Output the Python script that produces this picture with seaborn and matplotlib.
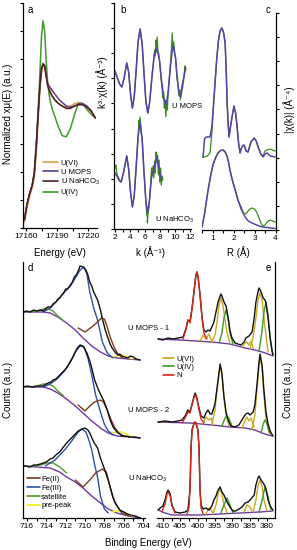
import matplotlib
matplotlib.use("Agg")
import matplotlib.pyplot as plt
from matplotlib.lines import Line2D
import numpy as np
import seaborn as sns

# ---------------- panel a : XANES ----------------
a_energy = [17158.5, 17161.0, 17163.5, 17166.0, 17168.0, 17170.0, 17172.0, 17173.5, 17175.0,
            17176.5, 17178.0, 17179.5, 17181.0, 17183.0, 17185.5, 17188.0, 17191.5, 17195.0,
            17199.0, 17203.0, 17207.0, 17211.0, 17215.0, 17219.0, 17223.0, 17227.0]
a_u6 = [0.05, 0.17, 0.27, 0.34, 0.43, 0.64, 0.95, 1.16, 1.31, 1.37, 1.37, 1.30, 1.22, 1.17,
        1.12, 1.08, 1.05, 1.03, 1.02, 1.03, 1.05, 1.06, 1.05, 1.02, 0.98, 0.93]
a_mops = [0.07, 0.20, 0.29, 0.36, 0.46, 0.70, 1.00, 1.20, 1.34, 1.38, 1.37, 1.29, 1.22, 1.19,
          1.16, 1.13, 1.09, 1.06, 1.03, 1.02, 1.03, 1.05, 1.05, 1.03, 0.99, 0.93]
a_nahco3 = [0.07, 0.20, 0.29, 0.36, 0.46, 0.70, 1.00, 1.21, 1.35, 1.39, 1.37, 1.28, 1.20, 1.15,
            1.11, 1.08, 1.05, 1.03, 1.01, 1.01, 1.03, 1.04, 1.04, 1.02, 0.99, 0.93]
a_u4 = [0.07, 0.20, 0.29, 0.36, 0.47, 0.72, 1.04, 1.32, 1.62, 1.75, 1.66, 1.42, 1.22, 1.09,
        1.00, 0.94, 0.85, 0.78, 0.77, 0.84, 0.96, 1.06, 1.05, 1.00, 0.96, 0.93]
a_labels = ["U(VI)", "U MOPS", "U NaHCO$_3$", "U(IV)"]

# ---------------- panel b : k3 chi(k) ----------------
b_offsets = [15.7, 5.9]
b_fit_mops = [(2.0, 0.0), (2.3, -0.6), (2.6, -1.2), (2.9, -1.5), (3.2, -0.6), (3.55, 0.9), (3.8, 0.0),
              (4.05, -2.2), (4.3, -3.6), (4.55, -2.4), (4.8, 0.2), (5.05, 3.0), (5.33, 4.3), (5.6, 2.8),
              (5.85, -0.2), (6.1, -3.0), (6.35, -4.1), (6.6, -3.0), (6.9, -0.5), (7.2, 1.6), (7.55, 2.4),
              (7.9, 1.2), (8.2, -1.0), (8.5, -2.7), (8.8, -3.3), (9.1, -1.8), (9.35, 0.5), (9.6, 2.1),
              (9.8, 2.6), (10.05, 1.3), (10.3, -0.8), (10.5, -2.1), (10.7, -2.5), (10.95, -1.6),
              (11.2, -0.3), (11.4, 0.4)]
b_data_mops = [(2.0, 0.1), (2.3, -0.6), (2.6, -1.2), (2.9, -1.5), (3.2, -0.6), (3.55, 0.9), (3.8, 0.0),
               (4.05, -2.2), (4.3, -3.6), (4.55, -2.4), (4.8, 0.2), (5.05, 3.0), (5.33, 4.3), (5.6, 2.8),
               (5.85, -0.2), (6.1, -3.0), (6.35, -4.1), (6.6, -3.0), (6.9, -0.5), (7.1, 1.0), (7.25, 2.2),
               (7.35, 1.6), (7.45, 3.2), (7.5, 2.0), (7.6, 3.5), (7.7, 2.1), (7.8, 1.9), (7.95, 0.9),
               (8.1, -0.6), (8.25, -1.6), (8.35, -2.6), (8.45, -2.0), (8.55, -3.6), (8.65, -2.8),
               (8.75, -4.5), (8.85, -3.0), (8.95, -3.8), (9.1, -1.5), (9.25, -0.2), (9.4, 1.2), (9.5, 2.4),
               (9.6, 3.9), (9.7, 2.2), (9.8, 3.0), (9.9, 1.8), (10.05, 1.5), (10.2, -0.5), (10.35, -1.2),
               (10.5, -2.4), (10.6, -1.8), (10.7, -2.8), (10.85, -1.5), (11.0, -1.0), (11.15, -0.5),
               (11.3, 0.6), (11.4, 0.2)]
b_fit_na = [(2.0, -0.3), (2.3, -0.7), (2.6, -1.1), (2.8, -1.2), (3.1, -0.3), (3.55, 1.4), (3.8, 0.1),
            (4.05, -2.2), (4.3, -3.7), (4.55, -2.5), (4.8, 0.3), (5.05, 3.3), (5.33, 4.8), (5.6, 3.0),
            (5.85, -0.3), (6.1, -3.2), (6.35, -4.3), (6.6, -2.8), (6.9, -0.3), (7.1, -0.1), (7.3, 0.6),
            (7.55, 1.3), (7.8, 0.4), (8.0, -0.5), (8.2, -1.0)]
b_data_na = [(2.0, 0.2), (2.1, 0.5), (2.2, -0.2), (2.3, -0.5), (2.6, -1.0), (2.8, -1.2), (3.1, -0.3),
             (3.55, 1.4), (3.8, 0.1), (4.05, -2.2), (4.3, -3.7), (4.55, -2.5), (4.8, 0.3), (5.05, 3.3),
             (5.2, 5.0), (5.25, 4.2), (5.33, 5.3), (5.45, 3.8), (5.6, 3.2), (5.85, -0.3), (6.1, -3.2),
             (6.2, -4.5), (6.25, -3.8), (6.3, -5.3), (6.4, -4.0), (6.5, -3.8), (6.6, -2.8), (6.75, -1.0),
             (6.85, 0.2), (6.95, -0.6), (7.05, 0.4), (7.15, -0.8), (7.25, 0.9), (7.35, -0.3), (7.45, 1.8),
             (7.55, 0.8), (7.65, 1.5), (7.75, -0.5), (7.85, 1.0), (7.95, -1.2), (8.05, 0.2), (8.15, -1.5),
             (8.25, -0.6), (8.35, -1.0)]

# ---------------- panel c : |chi(R)| ----------------
c_fit_mops = [(0.55, 7.2), (0.62, 9.0), (0.7, 9.2), (0.88, 9.2), (0.97, 10.2), (1.05, 12.5), (1.12, 14.6),
              (1.2, 17.0), (1.28, 18.8), (1.36, 19.8), (1.45, 20.1), (1.53, 19.6), (1.6, 18.6), (1.65, 16.0),
              (1.69, 12.9), (1.74, 10.6), (1.79, 9.2), (1.86, 10.3), (1.93, 11.2), (2.02, 12.3), (2.1, 11.6),
              (2.17, 10.2), (2.24, 8.6), (2.31, 7.6), (2.36, 8.0), (2.42, 8.3), (2.5, 8.4), (2.6, 7.8),
              (2.69, 7.7), (2.76, 8.2), (2.83, 8.7), (2.98, 9.1), (3.08, 8.8), (3.17, 8.2), (3.3, 7.5),
              (3.4, 7.2), (3.5, 7.5), (3.6, 7.6), (3.74, 7.3), (3.98, 7.2)]
c_data_mops = [(0.5, 7.2), (0.6, 7.2), (0.75, 7.3), (0.88, 7.6), (0.97, 9.6), (1.05, 12.4), (1.12, 14.6),
               (1.2, 17.0), (1.28, 18.8), (1.36, 19.8), (1.45, 20.1), (1.53, 19.6), (1.6, 18.6), (1.65, 16.0),
               (1.69, 12.9), (1.74, 10.6), (1.79, 9.2), (1.86, 10.3), (1.93, 11.2), (2.02, 12.3), (2.1, 11.6),
               (2.17, 10.2), (2.24, 8.6), (2.31, 7.6), (2.36, 8.0), (2.42, 8.3), (2.5, 8.4), (2.6, 7.8),
               (2.69, 7.7), (2.76, 8.2), (2.83, 8.7), (2.98, 9.1), (3.08, 8.8), (3.17, 8.2), (3.3, 7.5),
               (3.4, 7.3), (3.5, 7.8), (3.6, 7.9), (3.74, 8.0), (3.85, 7.9), (3.98, 7.8)]
c_fit_na = [(0.5, 0.2), (0.62, 1.5), (0.79, 3.9), (0.9, 5.2), (1.02, 6.4), (1.14, 7.1), (1.26, 7.6),
            (1.38, 7.85), (1.5, 7.9), (1.6, 7.7), (1.69, 7.3), (1.76, 6.7), (1.83, 5.9), (1.93, 5.0),
            (2.02, 4.3), (2.12, 3.6), (2.21, 2.9), (2.36, 2.0), (2.55, 1.2), (2.7, 0.8), (2.88, 0.6),
            (3.1, 0.4), (3.36, 0.2), (3.6, 0.15), (3.98, 0.05)]
c_data_na = [(0.5, 0.2), (0.62, 1.5), (0.79, 3.9), (0.9, 5.2), (1.02, 6.4), (1.14, 7.1), (1.26, 7.6),
             (1.38, 7.85), (1.5, 7.9), (1.6, 7.7), (1.69, 7.3), (1.76, 6.7), (1.83, 5.9), (1.93, 5.0),
             (2.02, 4.3), (2.12, 3.6), (2.21, 2.9), (2.36, 2.2), (2.47, 1.6), (2.55, 1.5), (2.62, 1.6),
             (2.75, 1.95), (2.88, 2.1), (3.0, 2.0), (3.1, 1.7), (3.2, 1.2), (3.3, 0.6), (3.4, 0.3),
             (3.5, 0.4), (3.6, 0.7), (3.74, 0.9), (3.85, 0.8), (3.98, 0.7)]

# ---------------- panel d : Fe 2p ----------------
d_mops1_data = [(716.4, 20.6), (716.0, 20.7), (715.7, 20.6), (715.3, 20.8), (715.0, 20.7), (714.6, 20.8),
                (714.3, 20.7), (714.0, 21.0), (713.8, 21.1), (713.5, 21.1), (713.3, 21.4), (713.0, 21.6),
                (712.8, 21.9), (712.6, 22.0), (712.4, 22.3), (712.2, 22.5), (712.0, 22.9), (711.8, 22.9),
                (711.5, 23.3), (711.3, 23.6), (711.1, 24.1), (710.9, 24.3), (710.7, 24.7), (710.5, 25.2),
                (710.2, 25.1), (709.9, 24.8), (709.7, 24.3), (709.5, 23.6), (709.3, 23.2), (709.1, 22.6),
                (708.9, 22.2), (708.7, 21.8), (708.4, 20.8), (708.2, 19.9), (707.9, 18.8), (707.7, 18.2),
                (707.4, 17.4), (707.2, 17.0), (706.9, 16.6), (706.6, 16.3), (706.4, 16.4), (706.2, 16.2),
                (705.9, 16.1), (705.6, 16.0), (705.3, 16.2), (705.0, 16.1), (704.7, 15.9), (704.3, 15.8)]
d_mops1_bg = [(716.4, 20.6), (714.3, 20.6), (713.6, 20.5), (712.8, 20.1), (711.9, 19.5), (711.0, 18.8),
              (710.2, 18.0), (709.3, 17.2), (708.4, 16.6), (707.6, 16.2), (706.7, 16.0), (705.5, 15.9),
              (704.3, 15.8)]
d_mops1_fe3 = [(714.3, 20.6), (713.6, 21.0), (712.9, 21.7), (712.2, 22.5), (711.5, 23.2), (711.0, 24.0),
               (710.5, 24.8), (710.1, 25.1), (709.8, 24.4), (709.5, 22.6), (709.1, 21.0), (708.7, 19.8),
               (708.2, 17.6), (707.7, 16.5), (707.1, 16.0)]
d_mops1_fe2 = [(710.7, 19.0), (710.0, 18.6), (709.3, 19.1), (708.7, 19.6), (708.3, 20.0), (708.0, 19.9),
               (707.7, 19.1), (707.4, 18.1), (707.0, 17.1), (706.6, 16.4), (706.1, 16.0)]
d_mops1_sat = [(715.7, 20.6), (715.0, 20.7), (714.3, 20.9), (713.8, 20.9), (713.3, 20.7), (712.8, 20.2),
               (712.2, 19.7)]
d_mops1_pre = [(707.2, 16.1), (706.7, 16.2), (706.2, 16.3), (705.6, 16.1), (705.1, 15.9)]

d_mops2_data = [(716.4, 13.1), (716.0, 13.2), (715.4, 13.1), (714.9, 13.2), (714.3, 13.2), (714.0, 13.4),
                (713.8, 13.5), (713.5, 13.6), (713.3, 13.8), (713.0, 13.9), (712.8, 14.1), (712.6, 14.3),
                (712.4, 14.5), (712.1, 14.8), (711.9, 15.0), (711.6, 15.5), (711.3, 16.0), (711.0, 16.6),
                (710.8, 17.0), (710.5, 17.3), (710.2, 17.2), (709.8, 16.5), (709.5, 15.7), (709.3, 15.0),
                (709.0, 13.8), (708.6, 12.8), (708.3, 12.2), (708.0, 11.6), (707.7, 10.8), (707.4, 9.8),
                (707.1, 9.1), (706.7, 8.6), (706.4, 8.4), (706.2, 8.2), (705.8, 8.2), (705.3, 8.1),
                (704.8, 8.1), (704.3, 8.0)]
d_mops2_bg = [(716.4, 13.1), (714.3, 13.1), (713.6, 12.9), (712.8, 12.5), (711.9, 11.9), (711.0, 11.2),
              (710.2, 10.5), (709.3, 9.7), (708.4, 9.0), (707.6, 8.5), (706.7, 8.2), (705.5, 8.1),
              (704.3, 8.0)]
d_mops2_fe3 = [(714.3, 13.1), (713.6, 13.4), (712.9, 13.9), (712.2, 14.6), (711.5, 15.6), (711.0, 16.6),
               (710.5, 17.2), (710.1, 17.1), (709.7, 16.0), (709.3, 14.3), (708.9, 12.3), (708.4, 10.6),
               (708.0, 9.4), (707.6, 8.7), (707.1, 8.3)]
d_mops2_fe2 = [(710.7, 11.3), (710.0, 10.7), (709.5, 11.2), (709.0, 11.6), (708.4, 11.8), (708.1, 11.6),
               (707.7, 10.8), (707.3, 9.8), (706.9, 9.0), (706.5, 8.5), (706.0, 8.2)]
d_mops2_sat = [(715.7, 13.1), (715.0, 13.2), (714.3, 13.4), (713.8, 13.4), (713.3, 13.2), (712.8, 12.7),
               (712.2, 12.2)]
d_mops2_pre = [(707.2, 8.5), (706.7, 8.6), (706.2, 8.6), (705.6, 8.3), (705.1, 8.1)]

d_na_data = [(716.4, 5.2), (716.0, 5.2), (715.7, 5.1), (715.3, 5.3), (715.0, 5.3), (714.6, 5.4), (714.3, 5.5),
             (714.0, 5.6), (713.6, 5.9), (713.3, 6.0), (712.9, 6.4), (712.6, 6.6), (712.3, 7.0), (711.9, 7.5),
             (711.6, 7.8), (711.3, 8.1), (711.0, 8.4), (710.7, 8.7), (710.5, 8.8), (710.3, 8.9), (710.0, 9.0),
             (709.7, 8.8), (709.5, 8.5), (709.1, 7.6), (708.7, 7.0), (708.4, 6.0), (708.1, 5.2), (707.6, 3.8),
             (707.1, 2.0), (706.8, 1.4), (706.4, 0.8), (706.0, 0.6), (705.6, 0.4), (705.3, 0.3), (704.8, 0.2),
             (704.3, 0.0)]
d_na_bg = [(716.4, 5.2), (713.6, 5.0), (712.6, 4.6), (711.9, 4.1), (711.0, 3.6), (710.2, 3.0), (709.3, 2.2),
           (708.4, 1.5), (707.6, 0.9), (706.7, 0.5), (705.5, 0.2), (704.3, 0.0)]
d_na_fe3 = [(714.1, 5.2), (713.1, 5.8), (712.1, 6.8), (711.3, 7.8), (710.7, 8.6), (710.3, 8.9), (709.9, 8.6),
            (709.6, 7.8), (709.3, 6.8), (709.0, 5.3), (708.7, 4.1), (708.4, 2.2), (708.0, 0.9), (707.6, 0.5)]
d_na_fe2 = [(711.0, 3.8), (710.2, 3.1), (709.5, 3.8), (708.9, 4.5), (708.2, 4.9), (707.8, 4.6), (707.4, 3.1),
            (706.9, 1.5), (706.2, 0.5), (705.5, 0.2)]
d_na_sat = [(715.9, 5.1), (714.6, 5.3), (713.9, 5.5), (713.3, 5.5), (712.6, 5.1), (711.9, 4.5)]
d_na_pre = [(707.2, 0.6), (706.7, 0.7), (706.2, 0.7), (705.6, 0.4), (705.1, 0.2)]
d_labels = ["Fe(II)", "Fe(III)", "satellite", "pre-peak"]

# ---------------- panel e : U 4f / N 1s ----------------
e_m1_data = [(411.4, 17.9), (410.0, 17.8), (408.5, 18.0), (407.1, 17.9), (405.6, 18.0), (404.2, 18.1),
             (403.3, 19.0), (402.8, 19.8), (402.2, 19.6), (401.6, 21.0), (401.0, 22.8), (400.5, 24.3),
             (400.2, 24.6), (399.9, 24.2), (399.3, 22.3), (398.7, 20.0), (398.2, 18.8), (397.6, 18.6),
             (397.0, 18.8), (396.4, 18.7), (395.9, 19.1), (395.3, 19.6), (394.7, 20.6), (394.1, 21.6),
             (393.5, 22.2), (393.3, 22.4), (393.0, 22.2), (392.4, 21.6), (391.8, 21.2), (391.2, 20.0),
             (390.7, 18.8), (390.1, 18.0), (389.2, 17.5), (388.4, 17.4), (387.5, 17.3), (386.6, 17.6),
             (386.1, 18.0), (385.2, 18.2), (384.3, 18.6), (383.7, 20.0), (383.2, 21.6), (382.6, 22.6),
             (382.3, 23.0), (381.7, 22.6), (381.1, 22.0), (380.6, 21.8), (380.3, 21.5), (379.7, 20.0),
             (379.1, 18.0), (378.6, 16.8), (378.3, 16.3)]
e_m1_bg = [(411.4, 17.9), (405.1, 17.8), (395.9, 17.6), (390.7, 17.4), (386.3, 17.0), (383.5, 16.8),
           (381.4, 16.6), (379.7, 16.4), (378.3, 16.2)]
e_m1_n = [(404.2, 17.9), (403.3, 18.9), (402.8, 19.8), (402.2, 19.5), (401.6, 20.9), (401.0, 22.7),
          (400.5, 24.2), (400.2, 24.6), (399.9, 24.2), (399.3, 22.3), (398.7, 19.9), (398.2, 18.5), (397.3, 17.9)]
e_m1_u6 = [
    [(395.9, 17.6), (395.0, 18.3), (394.4, 19.6), (393.8, 21.3), (393.3, 22.0), (392.7, 21.3), (392.1, 19.8),
     (391.5, 18.5), (390.7, 17.5)],
    [(399.3, 17.7), (398.4, 18.3), (397.6, 17.9), (396.7, 18.4), (395.9, 17.6)],
    [(384.9, 16.9), (384.0, 18.1), (383.2, 20.0), (382.6, 21.8), (382.0, 22.5), (381.4, 21.8), (380.9, 20.1),
     (380.3, 18.3), (379.7, 16.6)],
    [(387.2, 17.1), (386.3, 17.5), (385.8, 17.6), (385.2, 17.3), (384.6, 17.7), (384.0, 17.0)]]
e_m1_u4 = [
    [(393.8, 17.5), (393.0, 18.5), (392.4, 20.0), (391.8, 20.8), (391.2, 20.0), (390.7, 18.5), (389.8, 17.4)],
    [(382.3, 16.7), (381.4, 18.8), (380.9, 20.6), (380.3, 21.6), (379.7, 20.3), (379.1, 18.0), (378.3, 16.3)]]

e_m2_data = [(411.4, 9.6), (409.4, 9.7), (407.4, 9.6), (405.6, 9.7), (404.5, 9.8), (403.6, 10.2), (402.8, 10.8),
             (402.2, 10.6), (401.6, 11.4), (401.0, 12.2), (400.7, 12.5), (400.2, 12.0), (399.6, 11.0),
             (399.0, 10.2), (398.2, 10.0), (397.6, 10.5), (397.0, 10.8), (396.4, 10.4), (395.9, 10.4),
             (395.0, 11.4), (394.4, 13.0), (393.8, 14.6), (393.5, 15.4), (393.0, 14.5), (392.4, 12.1),
             (391.8, 10.6), (391.2, 9.8), (390.4, 9.2), (389.2, 9.1), (388.1, 9.3), (386.9, 10.0),
             (386.1, 10.4), (385.5, 10.5), (384.9, 10.3), (384.0, 10.6), (383.5, 11.3), (382.9, 13.3),
             (382.3, 15.6), (382.0, 16.4), (381.4, 15.2), (380.9, 12.8), (380.3, 10.6), (379.7, 9.4),
             (379.1, 8.7), (378.3, 8.2)]
e_m2_bg = [(411.4, 9.6), (402.2, 9.5), (395.9, 9.3), (390.7, 9.1), (386.3, 9.0), (383.5, 8.8), (381.4, 8.5),
           (379.7, 8.3), (378.3, 8.2)]
e_m2_n = [(404.5, 9.5), (403.6, 10.0), (402.8, 10.6), (402.2, 10.5), (401.6, 11.3), (401.0, 12.1),
          (400.7, 12.3), (400.2, 11.9), (399.6, 10.8), (399.0, 9.9), (398.2, 9.5)]
e_m2_u6 = [
    [(395.9, 9.3), (395.0, 10.8), (394.4, 12.8), (393.8, 14.6), (393.5, 15.1), (393.0, 14.3), (392.4, 12.0),
     (391.8, 10.2), (390.9, 9.2)],
    [(398.4, 9.4), (397.6, 10.1), (396.7, 9.8), (396.1, 10.0), (395.6, 9.4)],
    [(384.3, 8.9), (383.5, 10.3), (382.9, 12.8), (382.3, 15.3), (382.0, 16.1), (381.4, 15.0), (380.9, 12.3),
     (380.3, 10.0), (379.4, 8.5)],
    [(387.2, 9.0), (386.3, 9.8), (385.8, 10.1), (385.2, 9.7), (384.6, 10.0), (383.7, 9.1)]]
e_m2_u4 = [
    [(393.0, 9.2), (392.1, 10.0), (391.5, 10.2), (390.9, 9.9), (390.1, 9.2)],
    [(381.7, 8.5), (381.1, 9.4), (380.6, 9.8), (380.0, 9.4), (379.1, 8.4)]]

e_na_data = [(411.4, 0.8), (410.8, 1.0), (410.0, 1.2), (409.4, 1.8), (408.8, 2.6), (408.5, 2.8), (407.9, 2.4),
             (407.4, 1.3), (406.5, 0.6), (405.1, 0.5), (403.6, 0.6), (402.8, 0.8), (402.2, 2.8), (401.9, 7.0),
             (401.6, 8.8), (401.0, 9.5), (400.7, 9.6), (400.5, 9.5), (399.9, 8.8), (399.6, 7.0), (399.3, 2.8),
             (399.0, 1.3), (398.4, 0.9), (397.6, 1.0), (396.7, 0.8), (395.9, 1.2), (395.3, 1.8), (394.7, 2.2),
             (394.1, 2.8), (393.5, 3.1), (393.0, 2.6), (392.4, 2.3), (391.8, 1.8), (391.2, 1.4), (390.7, 1.1),
             (389.8, 0.7), (389.0, 0.7), (388.1, 0.9), (387.2, 1.1), (386.3, 1.5), (385.5, 1.6), (384.6, 1.9),
             (383.7, 2.3), (383.2, 3.3), (382.6, 4.0), (382.3, 4.2), (381.7, 3.8), (381.1, 3.5), (380.6, 3.2),
             (380.3, 2.9), (379.7, 1.8), (379.1, 1.2), (378.3, 0.8)]
e_na_bg = [(411.4, 0.8), (409.4, 0.5), (407.4, 0.3), (405.1, 0.3), (399.3, 0.3), (393.5, 0.4), (387.8, 0.5),
           (382.0, 0.6), (378.3, 0.7)]
e_na_n = [
    [(410.3, 0.6), (409.4, 1.4), (408.8, 2.4), (408.5, 2.6), (407.9, 2.2), (407.4, 1.2), (406.5, 0.5)],
    [(403.1, 0.4), (402.5, 1.0), (402.2, 2.8), (401.9, 7.0), (401.6, 8.8), (401.0, 9.5), (400.7, 9.6),
     (400.5, 9.5), (399.9, 8.8), (399.6, 7.0), (399.3, 2.8), (399.0, 1.0), (398.4, 0.4)]]
e_na_u6 = [
    [(395.6, 0.4), (394.7, 1.3), (394.1, 2.4), (393.5, 3.0), (393.0, 2.4), (392.4, 1.3), (391.5, 0.5)],
    [(397.6, 0.4), (396.7, 1.0), (396.1, 0.8), (395.6, 0.5)],
    [(384.0, 0.6), (383.2, 1.8), (382.6, 3.2), (382.0, 3.8), (381.4, 3.1), (380.9, 1.8), (380.0, 0.7)],
    [(386.6, 0.6), (385.8, 1.3), (384.9, 1.1), (384.3, 0.7)]]
e_na_u4 = [
    [(393.3, 0.5), (392.4, 1.3), (391.5, 2.0), (390.7, 1.3), (389.8, 0.5)],
    [(382.3, 0.6), (381.4, 1.8), (380.6, 3.1), (379.7, 2.1), (378.8, 0.8)]]
e_labels = ["U(VI)", "U(IV)", "N"]
xps_names = ["U MOPS - 1", "U MOPS - 2", "U NaHCO$_3$"]

# ---------------- colours ----------------
C_U6A, C_MOPS, C_NA, C_U4A = "#dca040", "#5e3d8f", "#4e2222", "#3f9a2d"
C_FIT, C_EXP = "#5544a8", "#3a8a1c"
C_FE2, C_FE3, C_SAT, C_PRE, C_BG = "#7b3a1e", "#2f4fa8", "#4f9a2a", "#eeee10", "#7038a0"
C_U6, C_U4, C_N = "#c9a820", "#3a9a2a", "#d8281a"

sns.set_style("ticks", {"axes.edgecolor": "black", "xtick.color": "black", "ytick.color": "black",
                        "text.color": "black", "axes.labelcolor": "black"})
plt.rcParams['font.family'] = ['Liberation Sans Narrow', 'Liberation Sans', 'DejaVu Sans']
plt.rcParams['mathtext.default'] = 'regular'

W, H = 297, 550
fig = plt.figure(figsize=(W / 100, H / 100), dpi=100)


def rect(l, t, r, b):
    return [l / W, 1 - b / H, (r - l) / W, (b - t) / H]


def draw(ax, pts, color, lw=1.0, z=2, dy=0.0):
    xs = [p[0] for p in pts]
    ys = [p[1] + dy for p in pts]
    sns.lineplot(x=xs, y=ys, ax=ax, color=color, linewidth=lw, estimator=None, sort=False, zorder=z)


def ftext(px, py, s, **kw):
    fig.text(px / W, 1 - py / H, s, **kw)


def style(ax, left=True, right=False):
    for side in ["top", "left", "right"]:
        ax.spines[side].set_visible(False)
    if left:
        ax.spines["left"].set_visible(True)
    if right:
        ax.spines["right"].set_visible(True)
    for sp in ax.spines.values():
        sp.set_linewidth(0.9)
    ax.tick_params(direction="out", length=2.5, width=0.8, labelsize=6, pad=1)
    ax.set_xlabel("")
    ax.set_ylabel("")


# ---- a
ax_a = fig.add_axes(rect(23, 3, 97, 228))
for vals, col in [(a_u4, C_U4A), (a_u6, C_U6A), (a_mops, C_MOPS), (a_nahco3, C_NA)]:
    draw(ax_a, list(zip(a_energy, vals)), col, lw=1.1)
ax_a.set_xlim(17157.1, 17228.7)
ax_a.set_ylim(0, 1.9)
style(ax_a)
ax_a.set_xticks([17160, 17175, 17190, 17205, 17220], ["17160", "", "17190", "", "17220"])
ax_a.set_yticks(np.linspace(0, 1.9, 9), [])
handles = [Line2D([0], [0], color=c, lw=1.2) for c in [C_U6A, C_MOPS, C_NA, C_U4A]]
ax_a.legend(handles, a_labels, loc="upper left", bbox_to_anchor=(0.27, 0.305), frameon=False,
            fontsize=5.5, handlelength=2.0, handletextpad=0.3, labelspacing=0.2, borderaxespad=0, borderpad=0)

# ---- b
ax_b = fig.add_axes(rect(114, 3, 191, 229))
draw(ax_b, b_data_mops, C_EXP, lw=0.9, dy=b_offsets[0])
draw(ax_b, b_fit_mops, C_FIT, lw=1.1, z=3, dy=b_offsets[0])
draw(ax_b, b_data_na, C_EXP, lw=0.9, dy=b_offsets[1])
draw(ax_b, b_fit_na, C_FIT, lw=1.1, z=3, dy=b_offsets[1])
ax_b.set_xlim(1.85, 12.1)
ax_b.set_ylim(0, 22.6)
style(ax_b)
ax_b.set_xticks(range(2, 13), [str(k) if k % 2 == 0 else "" for k in range(2, 13)])
ax_b.set_yticks(np.linspace(0, 22.6, 10), [])

# ---- c
ax_c = fig.add_axes(rect(202, 13, 276, 230))
draw(ax_c, c_data_mops, C_EXP, lw=0.9)
draw(ax_c, c_fit_mops, C_FIT, lw=1.1, z=3)
draw(ax_c, c_data_na, C_EXP, lw=0.9)
draw(ax_c, c_fit_na, C_FIT, lw=1.1, z=3)
ax_c.set_xlim(0.5, 4.02)
ax_c.set_ylim(-0.1, 21.6)
style(ax_c, left=False, right=True)
ax_c.yaxis.tick_right()
ax_c.set_xticks(np.arange(0.5, 4.01, 0.5), ["", "1", "", "2", "", "3", "", "4"])
ax_c.set_yticks(np.linspace(-0.1, 21.6, 10), [])

# ---- d
ax_d = fig.add_axes(rect(23, 262, 145, 518))
for data, bg, fe3, fe2, sat, pre in [
        (d_mops1_data, d_mops1_bg, d_mops1_fe3, d_mops1_fe2, d_mops1_sat, d_mops1_pre),
        (d_mops2_data, d_mops2_bg, d_mops2_fe3, d_mops2_fe2, d_mops2_sat, d_mops2_pre),
        (d_na_data, d_na_bg, d_na_fe3, d_na_fe2, d_na_sat, d_na_pre)]:
    draw(ax_d, bg, C_BG, lw=1.0, z=2)
    draw(ax_d, sat, C_SAT, lw=1.0, z=3)
    draw(ax_d, pre, C_PRE, lw=1.0, z=3)
    draw(ax_d, fe3, C_FE3, lw=1.0, z=4)
    draw(ax_d, fe2, C_FE2, lw=1.0, z=4)
    draw(ax_d, data, "#111111", lw=1.0, z=5)
ax_d.set_xlim(716.4, 703.8)
ax_d.set_ylim(0, 25.6)
style(ax_d)
ax_d.set_xticks(range(704, 717), [str(v) if v % 2 == 0 else "" for v in range(704, 717)])
ax_d.set_yticks([])
handles = [Line2D([0], [0], color=c, lw=1.2) for c in [C_FE2, C_FE3, C_SAT, C_PRE]]
ax_d.legend(handles, d_labels, loc="upper left", bbox_to_anchor=(0.03, 0.166), frameon=False,
            fontsize=5.5, handlelength=1.7, handletextpad=0.2, labelspacing=0.2, borderaxespad=0, borderpad=0)

# ---- e
ax_e = fig.add_axes(rect(157, 262, 275, 518))
for data, bg, n_list, u6_list, u4_list in [
        (e_m1_data, e_m1_bg, [e_m1_n], e_m1_u6, e_m1_u4),
        (e_m2_data, e_m2_bg, [e_m2_n], e_m2_u6, e_m2_u4),
        (e_na_data, e_na_bg, e_na_n, e_na_u6, e_na_u4)]:
    draw(ax_e, bg, C_BG, lw=1.0, z=2)
    for seg in u6_list:
        draw(ax_e, seg, C_U6, lw=1.0, z=3)
    for seg in u4_list:
        draw(ax_e, seg, C_U4, lw=1.0, z=3)
    draw(ax_e, data, "#111111", lw=1.0, z=4)
    for seg in n_list:
        draw(ax_e, seg, C_N, lw=1.0, z=5)
ax_e.set_xlim(411.7, 377.7)
ax_e.set_ylim(0, 25.6)
style(ax_e, left=False, right=True)
ticks_e = np.arange(380, 410.1, 2.5)
ax_e.set_xticks(ticks_e, [str(int(v)) if v % 5 == 0 else "" for v in ticks_e])
ax_e.set_yticks([])
handles = [Line2D([0], [0], color=c, lw=1.2) for c in [C_U6, C_U4, C_N]]
ax_e.legend(handles, e_labels, loc="upper left", bbox_to_anchor=(0.05, 0.634), frameon=False,
            fontsize=5.5, handlelength=1.5, handletextpad=0.2, labelspacing=0.1, borderaxespad=0, borderpad=0)

# ---- texts
lab = dict(fontsize=7, ha="center", va="center")
ftext(8, 114, "Normalized xμ(E) (a.u.)", rotation=90, **lab)
ftext(102, 82, "k³·χ(k) (Å⁻³)", rotation=90, **lab)
ftext(289, 110, "|χ(k)| (Å⁻⁴)", rotation=90, **lab)
ftext(8, 390, "Counts (a.u.)", rotation=90, **lab)
ftext(288, 390, "Counts (a.u.)", rotation=90, **lab)
ftext(60, 253, "Energy (eV)", **lab)
ftext(151, 252, "k (Å⁻¹)", **lab)
ftext(238, 252, "R (Å)", **lab)
ftext(148, 543, "Binding Energy (eV)", **lab)
for s, px, py in [("a", 30, 10), ("b", 123, 10), ("c", 268, 10), ("d", 30, 268), ("e", 268, 268)]:
    ftext(px, py, s, fontsize=7, ha="center", va="center")
ftext(172, 107, "U MOPS", fontsize=5.5, ha="left", va="center")
ftext(155, 220, "U NaHCO$_3$", fontsize=5.5, ha="left", va="center")
for s, py in zip(xps_names, [328, 410, 479]):
    ftext(128, py, s, fontsize=5.5, ha="left", va="center")

fig.savefig("out.png", dpi=100)
